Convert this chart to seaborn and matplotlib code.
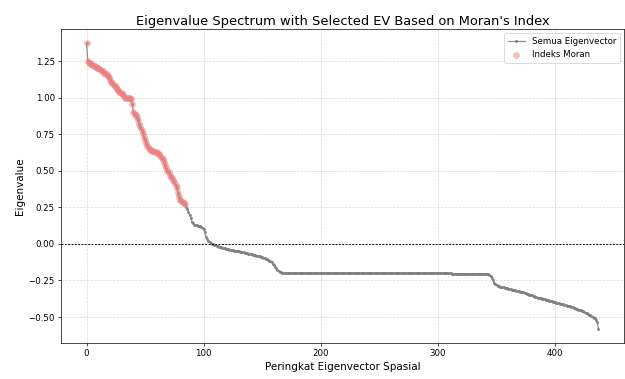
import matplotlib
matplotlib.use("Agg")
import matplotlib.pyplot as plt
import seaborn as sns
import numpy as np
import pandas as pd

# Eigenvalues (ranked, descending), indices 0..437
eig_head = [
    1.372, 1.25, 1.24, 1.235, 1.23, 1.225, 1.22, 1.215, 1.21, 1.205,
    1.20, 1.195, 1.19, 1.185, 1.18, 1.17, 1.165, 1.16, 1.15, 1.14,
    1.12, 1.11, 1.10, 1.09, 1.08, 1.07, 1.06, 1.05, 1.04, 1.035,
    1.03, 1.02, 1.01, 1.00, 1.00, 1.00, 1.00, 0.995, 0.99, 0.96,
    0.90, 0.885, 0.88, 0.87, 0.85, 0.82, 0.80, 0.78, 0.76, 0.73,
    0.71, 0.69, 0.67, 0.655, 0.645, 0.64, 0.635, 0.635, 0.63, 0.63,
    0.625, 0.62, 0.615, 0.60, 0.59, 0.58, 0.56, 0.54, 0.52, 0.50,
    0.49, 0.47, 0.46, 0.45, 0.44, 0.42, 0.40, 0.38, 0.35, 0.32,
    0.30, 0.295, 0.29, 0.28, 0.27, 0.25, 0.24, 0.22, 0.20, 0.18,
    0.15, 0.14, 0.13, 0.128, 0.126, 0.125, 0.122, 0.12, 0.115, 0.11,
    0.10, 0.08, 0.05, 0.035, 0.02, 0.01, 0.005, 0.0, -0.003, -0.006,
    -0.009, -0.012, -0.015, -0.018, -0.021, -0.024, -0.027, -0.029, -0.031, -0.033,
    -0.035, -0.037, -0.039, -0.041, -0.043, -0.045, -0.046, -0.047, -0.048, -0.049,
    -0.05, -0.052, -0.054, -0.056, -0.058, -0.060, -0.062, -0.064, -0.066, -0.068,
    -0.07, -0.072, -0.074, -0.076, -0.078, -0.080, -0.082, -0.084, -0.086, -0.088,
    -0.09, -0.093, -0.097, -0.10, -0.105, -0.11, -0.115, -0.12, -0.125, -0.135,
    -0.145, -0.155, -0.165, -0.175, -0.185, -0.19, -0.195, -0.197, -0.199, -0.2,
]
eig_plateau1 = [-0.200] * 142   # indices 170..311
eig_plateau2 = [-0.205] * 32    # indices 312..343
eig_tail = [
    -0.21, -0.22, -0.235, -0.25, -0.265, -0.275,
    -0.28, -0.285, -0.29, -0.292, -0.294, -0.296, -0.298, -0.30, -0.302, -0.304,
    -0.306, -0.308, -0.31, -0.312, -0.314, -0.316, -0.318, -0.32, -0.322, -0.324,
    -0.326, -0.328, -0.33, -0.332, -0.334, -0.337, -0.34, -0.343, -0.346, -0.349,
    -0.352, -0.355, -0.358, -0.361, -0.364, -0.367, -0.369, -0.371, -0.373, -0.375,
    -0.377, -0.379, -0.381, -0.383, -0.385, -0.387, -0.389, -0.392, -0.395, -0.398,
    -0.40, -0.402, -0.404, -0.406, -0.408, -0.41, -0.412, -0.414, -0.417, -0.42,
    -0.422, -0.424, -0.426, -0.428, -0.431, -0.434, -0.437, -0.44, -0.443, -0.446,
    -0.449, -0.452, -0.455, -0.458, -0.462, -0.466, -0.47, -0.474, -0.478, -0.483,
    -0.488, -0.493, -0.50, -0.505, -0.51, -0.52, -0.535, -0.58,
]
eigenvalues = eig_head + eig_plateau1 + eig_plateau2 + eig_tail
n_selected = 85  # eigenvectors selected by Moran's index (ranks 0..84)

rank = list(range(len(eigenvalues)))
df = pd.DataFrame({"rank": rank, "eig": eigenvalues})
sel = df.iloc[:n_selected]

fig = plt.figure(figsize=(10, 379 / 62.5), dpi=62.5)
ax = fig.add_axes([61 / 625, 1 - 343 / 379, (624 - 61) / 625, (343 - 29) / 379])

sns.lineplot(data=df, x="rank", y="eig", ax=ax, color="gray", marker=".",
             markersize=7, linewidth=1.5, alpha=0.85, markeredgewidth=0,
             label="Semua Eigenvector")
sns.scatterplot(data=sel, x="rank", y="eig", ax=ax, color="lightcoral",
                edgecolor="lightcoral", s=45, alpha=0.5, linewidth=0.8,
                label="Indeks Moran", zorder=3)
ax.axhline(0, color="black", linestyle="--", linewidth=1.1, dashes=(2, 1.5))
ax.grid(True, linestyle="--", alpha=0.5)
ax.set_title("Eigenvalue Spectrum with Selected EV Based on Moran's Index",
             fontsize=15, pad=5)
ax.set_xlabel("Peringkat Eigenvector Spasial", fontsize=12)
ax.set_ylabel("Eigenvalue", fontsize=12)
ax.set_xticks([0, 100, 200, 300, 400])
ax.set_yticks([-0.5, -0.25, 0, 0.25, 0.5, 0.75, 1.0, 1.25])
ax.tick_params(labelsize=10)
ax.legend(loc="upper right", fontsize=10)

fig.savefig("out.png", dpi=62.5)
